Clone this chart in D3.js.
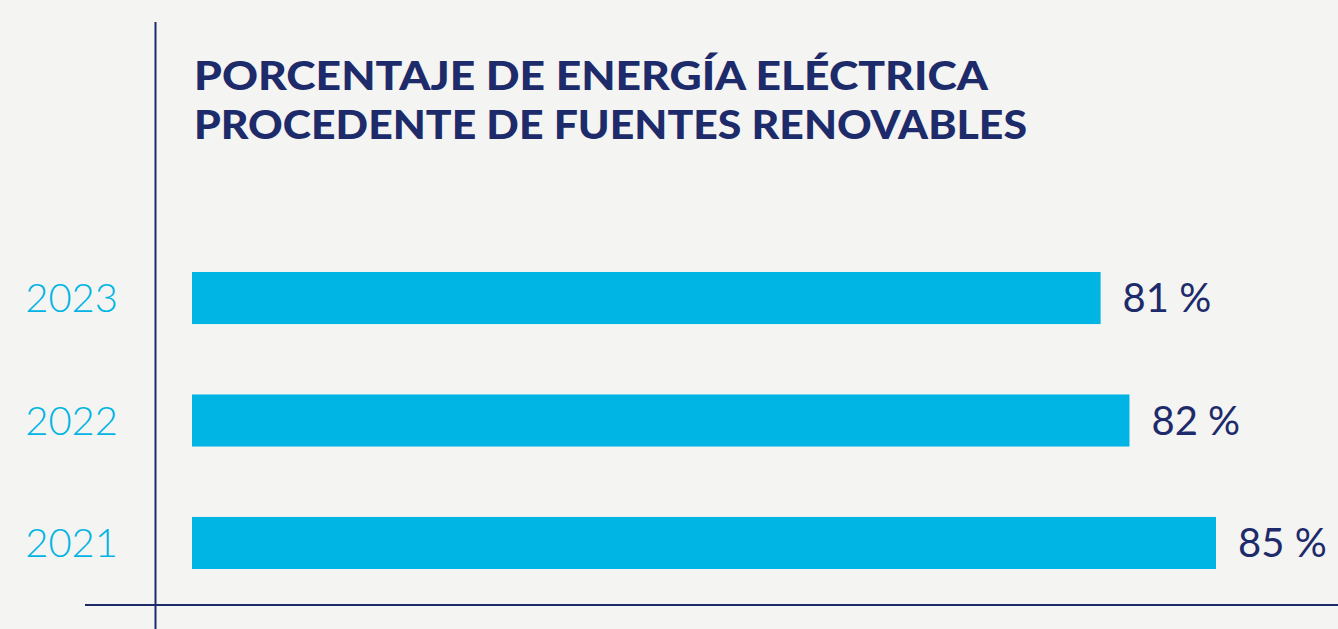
<!DOCTYPE html>
<html>
<head>
<meta charset="utf-8">
<script src="https://cdn.jsdelivr.net/npm/d3@7"></script>
<style>
  html, body { margin: 0; padding: 0; background: #f4f4f3; }
  svg { display: block; }
</style>
</head>
<body>
<div id="chart"></div>
<script>
// data ------------------------------------------------
var years = ["2023", "2022", "2021"];
var values = [81, 82, 85];
var valueLabels = ["81 %", "82 %", "85 %"];
var titleLines = ["PORCENTAJE DE ENERGÍA ELÉCTRICA", "PROCEDENTE DE FUENTES RENOVABLES"];

var navy = "#1e2b6b";
var cyan = "#00b4e4";

// svg --------------------------------------------------
var svgWidth = 1338;
var svgHeight = 629;

var svg = d3.select("#chart")
  .append("svg")
  .attr("width", svgWidth)
  .attr("height", svgHeight);

svg.append("rect")
  .attr("width", svgWidth)
  .attr("height", svgHeight)
  .attr("fill", "#f4f4f3");

// scales
var xScale = d3.scaleLinear()
  .domain([49.5, 85])
  .range([192, 1216]);

var yScale = d3.scaleBand()
  .domain(years)
  .range([272, 569])
  .paddingInner(0.575)
  .paddingOuter(0);

var data = years.map((y, i) => ({year: y, value: values[i], label: valueLabels[i]}));

// axis lines
svg.append("line")
  .attr("x1", 155.5).attr("x2", 155.5)
  .attr("y1", 22).attr("y2", svgHeight)
  .attr("stroke", navy)
  .attr("stroke-width", 2);

svg.append("line")
  .attr("x1", 85).attr("x2", svgWidth)
  .attr("y1", 605).attr("y2", 605)
  .attr("stroke", navy)
  .attr("stroke-width", 2);

// title
svg.append("g").selectAll("text").data(titleLines).enter().append("text")
  .attr("x", 194)
  .attr("y", (d, i) => 90 + i * 49)
  .attr("fill", navy)
  .attr("font-family", "Lato, sans-serif")
  .attr("font-weight", 900)
  .attr("font-size", 40)
  .attr("textLength", (d, i) => i == 0 ? 794 : 833)
  .attr("lengthAdjust", "spacingAndGlyphs")
  .text(d => d);

// bars
svg.append("g").selectAll("rect").data(data).enter().append("rect")
  .attr("x", xScale.range()[0])
  .attr("y", d => yScale(d.year))
  .attr("width", d => xScale(d.value) - xScale.range()[0])
  .attr("height", yScale.bandwidth())
  .attr("fill", cyan);

// year labels
svg.append("g").selectAll("text").data(data).enter().append("text")
  .attr("x", 118)
  .attr("y", d => yScale(d.year) + yScale.bandwidth() / 2)
  .attr("dy", "0.36em")
  .attr("text-anchor", "end")
  .attr("fill", cyan)
  .attr("font-family", "Lato, sans-serif")
  .attr("font-weight", 300)
  .attr("font-size", 40)
  .text(d => d.year);

// value labels
svg.append("g").selectAll("text").data(data).enter().append("text")
  .attr("x", d => xScale(d.value) + 22)
  .attr("y", d => yScale(d.year) + yScale.bandwidth() / 2)
  .attr("dy", "0.36em")
  .attr("fill", navy)
  .attr("font-family", "Lato, sans-serif")
  .attr("font-weight", 400)
  .attr("font-size", 40)
  .text(d => d.label);
</script>
</body>
</html>
